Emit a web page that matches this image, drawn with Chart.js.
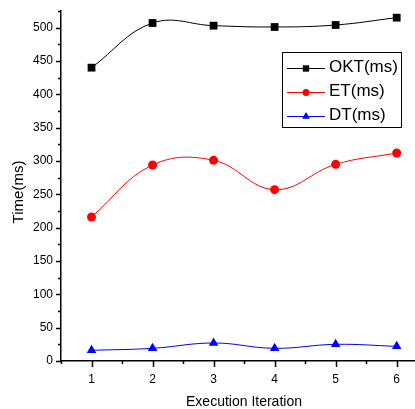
<!DOCTYPE html>
<html>
<head>
<meta charset="utf-8">
<script src="https://cdn.jsdelivr.net/npm/chart.js@4"></script>
<style>
  html, body { margin: 0; padding: 0; background: #fff; }
  #wrap { width: 415px; height: 409px; }
</style>
</head>
<body>
<div id="wrap"><canvas id="chart"></canvas></div>
<script>
const iterations = [1, 2, 3, 4, 5, 6];
const oktValues = [440, 507, 503, 501, 504, 515];
const etValues = [216, 294, 301, 257, 295, 312];
const dtValues = [16, 19, 27, 19, 25, 22];
const seriesNames = ['OKT(ms)', 'ET(ms)', 'DT(ms)'];

const FONT = '"Liberation Sans", Arial, sans-serif';

const toPoints = (values) => values.map((v, i) => ({ x: iterations[i], y: v }));

// tick marks outward, major longer than minor
const axisTicks = {
  id: 'axisTicks',
  afterDraw(chart) {
    const { ctx, chartArea, scales: { x, y } } = chart;
    ctx.save();
    ctx.strokeStyle = '#000';
    ctx.lineWidth = 1.5;
    y.ticks.forEach(t => {
      if (t.value % 25 !== 0) return;
      const py = Math.round(y.getPixelForValue(t.value)) + 0.5;
      const len = t.value % 50 === 0 ? 5 : 3;
      ctx.beginPath();
      ctx.moveTo(chartArea.left - len, py);
      ctx.lineTo(chartArea.left, py);
      ctx.stroke();
    });
    x.ticks.forEach(t => {
      if (Math.abs(t.value * 2 - Math.round(t.value * 2)) > 1e-6) return;
      const px = Math.round(x.getPixelForValue(t.value)) + 0.5;
      const len = Number.isInteger(t.value) ? 6 : 3;
      ctx.beginPath();
      ctx.moveTo(px, chartArea.bottom);
      ctx.lineTo(px, chartArea.bottom + len);
      ctx.stroke();
    });

    // axis titles
    ctx.fillStyle = '#000';
    ctx.textAlign = 'center';
    ctx.textBaseline = 'middle';
    ctx.font = '14px ' + FONT;
    ctx.fillText('Execution Iteration', 244, 402);
    ctx.translate(19, 192);
    ctx.rotate(-Math.PI / 2);
    ctx.font = '15px ' + FONT;
    ctx.fillText('Time(ms)', 0, 0);
    ctx.restore();
  },
};

// boxed legend with line + marker samples
const boxLegend = {
  id: 'boxLegend',
  afterDraw(chart) {
    const { ctx } = chart;
    ctx.save();
    ctx.strokeStyle = '#000';
    ctx.lineWidth = 1;
    ctx.strokeRect(282.5, 52.5, 119, 75);
    ctx.font = '17px ' + FONT;
    ctx.textBaseline = 'middle';
    ctx.textAlign = 'left';
    chart.data.datasets.forEach((ds, i) => {
      const rowY = 68 + i * 24;
      ctx.strokeStyle = ds.borderColor;
      ctx.lineWidth = 1;
      ctx.beginPath();
      ctx.moveTo(287, rowY + 0.5);
      ctx.lineTo(325, rowY + 0.5);
      ctx.stroke();
      ctx.fillStyle = ds.pointBackgroundColor;
      ctx.strokeStyle = ds.pointBackgroundColor;
      Chart.helpers.drawPoint(ctx, {
        pointStyle: ds.pointStyle,
        radius: ds.pointRadius - 1,
        borderWidth: 0,
        rotation: 0,
      }, 306, rowY + 0.5);
      ctx.fillStyle = '#000';
      ctx.fillText(seriesNames[i], 329, rowY - 1);
    });
    ctx.restore();
  },
};

const makeSet = (label, values, color, style, radius) => ({
  label,
  data: toPoints(values),
  borderColor: color,
  backgroundColor: color,
  pointBackgroundColor: color,
  pointBorderColor: color,
  pointBorderWidth: 0,
  pointStyle: style,
  pointRadius: radius,
  borderWidth: 1,
  tension: 0.4,
});

new Chart(document.getElementById('chart'), {
  type: 'line',
  data: {
    datasets: [
      makeSet(seriesNames[0], oktValues, '#000000', 'rect', 5.5),
      makeSet(seriesNames[1], etValues, '#ff0000', 'circle', 4.5),
      makeSet(seriesNames[2], dtValues, '#0000ff', 'triangle', 5.5),
    ],
  },
  options: {
    responsive: true,
    maintainAspectRatio: false,
    animation: false,
    layout: { padding: { top: 11, right: 0, left: 0, bottom: 0 }, autoPadding: false },
    plugins: { legend: { display: false }, tooltip: { enabled: false } },
    scales: {
      x: {
        type: 'linear',
        min: 0.5,
        max: 6.3,
        grid: { display: false, drawTicks: false },
        border: { display: true, color: '#000', width: 1.5 },
        ticks: {
          stepSize: 0.5,
          includeBounds: false,
          autoSkip: false,
          maxRotation: 0,
          padding: 11,
          color: '#000',
          font: { family: FONT, size: 12 },
          callback: (v) => (Number.isInteger(v) ? String(v) : ''),
        },
        afterFit: (scale) => {
          scale.height = 48;
          scale.paddingLeft = 0;
          scale.paddingRight = 0;
        },
      },
      y: {
        min: 0,
        max: 525,
        grid: { display: false, drawTicks: false },
        border: { display: true, color: '#000', width: 1.5 },
        ticks: {
          stepSize: 25,
          autoSkip: false,
          padding: 8,
          color: '#000',
          font: { family: FONT, size: 12 },
          callback: (v) => (v % 50 === 0 ? String(v) : ''),
        },
        afterFit: (scale) => {
          scale.width = 61;
          scale.paddingTop = 0;
          scale.paddingBottom = 0;
        },
      },
    },
  },
  plugins: [axisTicks, boxLegend],
});
</script>
</body>
</html>
